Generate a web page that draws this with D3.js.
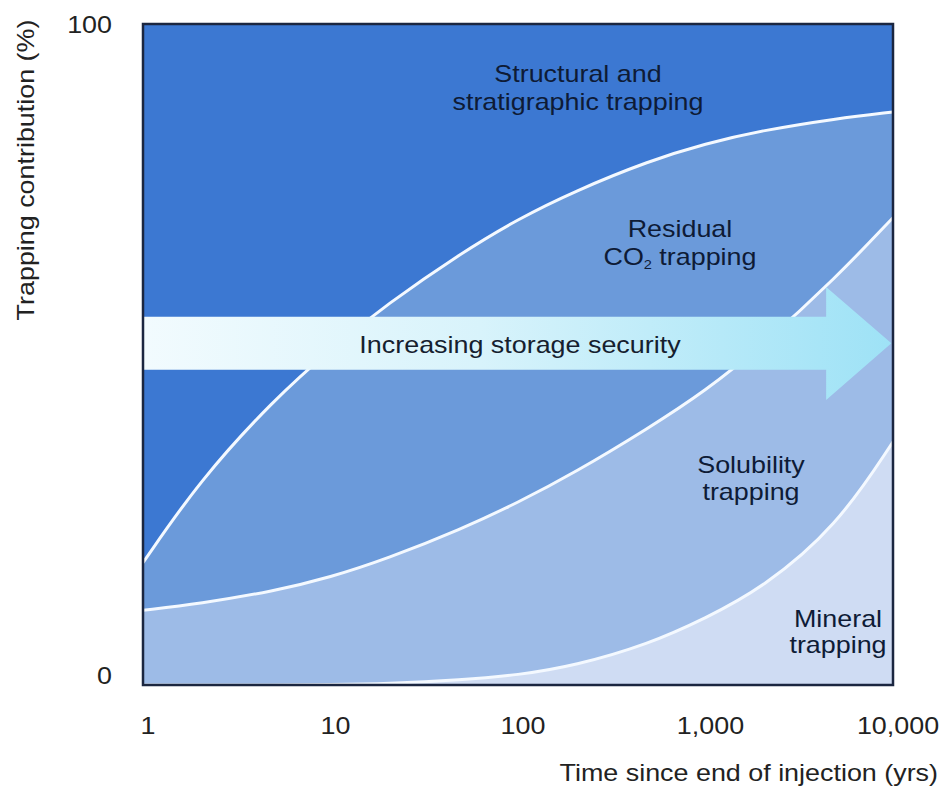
<!DOCTYPE html>
<html><head><meta charset="utf-8">
<script src="https://cdn.jsdelivr.net/npm/d3@7/dist/d3.min.js"></script>
<style>body{margin:0;background:#fff}svg{display:block;font-family:"Liberation Sans",Arial,sans-serif}</style>
</head><body><svg id="c" width="947" height="787"></svg>
<script>
// Years since end of injection
const years = [1, 2, 5, 10, 20, 50, 100, 200, 500, 1000, 2000, 5000, 10000];
// Cumulative upper boundary of each trapping band (%)
const residualTop   = [18.5, 30.9, 43.2, 50.8, 57.6, 65.4, 70.5, 74.7, 79.3, 81.9, 83.9, 85.7, 86.7];
const solubilityTop = [11.3, 12.3, 14.2, 16.3, 19.1, 23.6, 27.6, 32.1, 38.9, 44.5, 51.3, 61.7, 70.7];
const mineralTop    = [0, 0, 0, 0.08, 0.2, 0.75, 1.5, 2.9, 6.2, 10.1, 14.6, 23.9, 36.8];
const xTicks = [1, 10, 100, 1000, 10000];
const xTickLabels = ["1", "10", "100", "1,000", "10,000"];
const yTicks = [0, 100];
const yTickLabels = ["0", "100"];
// Arrow (annotation) in data units
const arrowYears = [1, 4400, 9800];
const arrowShaft = [47.7, 55.7];
const arrowHead = [43.1, 60.2];

const svg = d3.select("#c");
const L = 143, R = 893, T = 24, B = 685;
const x = d3.scaleLog().domain([1, 10000]).range([L, R]);
const y = d3.scaleLinear().domain([0, 100]).range([B, T]);
const FS = 24, STRETCH = 1.12;
function stretch(sel) {
  sel.each(function () {
    const w = this.getComputedTextLength();
    d3.select(this).attr("textLength", w * STRETCH).attr("lengthAdjust", "spacingAndGlyphs");
  });
  return sel;
}

const defs = svg.append("defs");
const grad = defs.append("linearGradient").attr("id", "ag").attr("x1", "0").attr("x2", "1").attr("y1", "0").attr("y2", "0");
grad.append("stop").attr("offset", "0").attr("stop-color", "#f2fbfe");
grad.append("stop").attr("offset", "0.45").attr("stop-color", "#d8f3fb");
grad.append("stop").attr("offset", "1").attr("stop-color", "#9ee2f6");
defs.append("clipPath").attr("id", "pc").append("rect").attr("x", L).attr("y", T).attr("width", R - L).attr("height", B - T);

const g = svg.append("g").attr("clip-path", "url(#pc)");
g.append("rect").attr("x", L).attr("y", T).attr("width", R - L).attr("height", B - T).attr("fill", "#3c78d2");

const bands = [
  {vals: residualTop, fill: "#6b9ada"},
  {vals: solubilityTop, fill: "#9dbbe7"},
  {vals: mineralTop, fill: "#cfdcf3"}
];
const curve = d3.curveBasis;
bands.forEach(b => {
  const pts = years.map((t, i) => [t, b.vals[i]]);
  g.append("path").datum(pts)
    .attr("d", d3.area().x(d => x(d[0])).y0(y(0)).y1(d => y(d[1])).curve(curve))
    .attr("fill", b.fill);
});
bands.forEach(b => {
  const pts = years.map((t, i) => [t, b.vals[i]]);
  g.append("path").datum(pts)
    .attr("d", d3.line().x(d => x(d[0])).y(d => y(d[1])).curve(curve))
    .attr("fill", "none").attr("stroke", "#f4f9ff").attr("stroke-width", 3);
});

// arrow
const ax0 = x(arrowYears[0]), ax1 = x(arrowYears[1]), ax2 = x(arrowYears[2]);
const ym = y((arrowShaft[0] + arrowShaft[1]) / 2);
const arrowPath = d3.path();
arrowPath.moveTo(ax0, y(arrowShaft[1]));
arrowPath.lineTo(ax1, y(arrowShaft[1]));
arrowPath.lineTo(ax1, y(arrowHead[1]));
arrowPath.lineTo(ax2, ym);
arrowPath.lineTo(ax1, y(arrowHead[0]));
arrowPath.lineTo(ax1, y(arrowShaft[0]));
arrowPath.lineTo(ax0, y(arrowShaft[0]));
arrowPath.closePath();
g.append("path").attr("d", arrowPath.toString()).attr("fill", "url(#ag)");

// border
svg.append("rect").attr("x", L).attr("y", T).attr("width", R - L).attr("height", B - T)
  .attr("fill", "none").attr("stroke", "#1b2640").attr("stroke-width", 2.5);

// tick labels (no tick lines in the original)
svg.append("g").selectAll("text").data(xTicks).join("text")
  .attr("x", d => x(d) + 5).attr("y", 734).attr("text-anchor", "middle")
  .attr("font-size", FS).attr("fill", "#222").text((d, i) => xTickLabels[i]).call(stretch);
svg.append("g").selectAll("text").data(yTicks).join("text")
  .attr("x", 112).attr("y", d => y(d) + (d === 0 ? -1 : 9)).attr("text-anchor", "end")
  .attr("font-size", FS).attr("fill", "#222").text((d, i) => yTickLabels[i]).call(stretch);

svg.append("text").attr("x", 938).attr("y", 781).attr("text-anchor", "end")
  .attr("font-size", FS).attr("fill", "#222").text("Time since end of injection (yrs)").call(stretch);
svg.append("text").attr("transform", "translate(34,170) rotate(-90)").attr("text-anchor", "middle")
  .attr("font-size", FS).attr("fill", "#222").text("Trapping contribution (%)").call(stretch);

// region labels
const lab = (lines, cx, cy, gap) => {
  lines.forEach((l, i) => {
    const t = svg.append("text").attr("text-anchor", "middle").attr("font-size", FS).attr("fill", "#0e1b36")
      .attr("x", cx).attr("y", cy + i * gap);
    if (typeof l === "string") t.text(l);
    else l(t);
    stretch(t);
  });
};
lab(["Structural and", "stratigraphic trapping"], 578, 82, 28);
lab(["Residual", t => { t.text("CO"); t.append("tspan").attr("font-size", 13).attr("dy", 4).text("2"); t.append("tspan").attr("dy", -4).text(" trapping"); }], 680, 237, 28);
lab(["Solubility", "trapping"], 751, 473, 27);
lab(["Mineral", "trapping"], 838, 627, 26);
stretch(svg.append("text").attr("x", 520).attr("y", 353).attr("text-anchor", "middle")
  .attr("font-size", FS).attr("fill", "#15202e").text("Increasing storage security"));
</script></body></html>
